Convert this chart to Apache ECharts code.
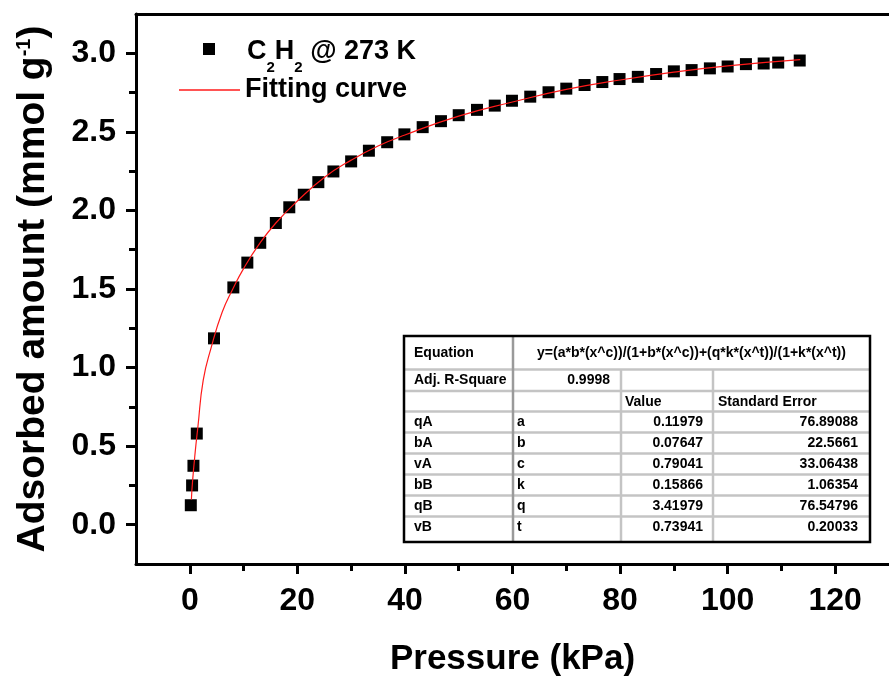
<!DOCTYPE html>
<html>
<head>
<meta charset="utf-8">
<script src="https://cdn.jsdelivr.net/npm/echarts@6.0.0/dist/echarts.min.js"></script>
<style>
html, body { margin: 0; padding: 0; background: #fff; }
#chart { width: 889px; height: 682px; }
</style>
</head>
<body>
<div id="chart"></div>
<script>
var FONT = '"Liberation Sans", Arial, sans-serif';

// measured points (kPa, mmol/g)
var pressure = [0.19, 0.43, 0.68, 1.3, 4.5, 8.1, 10.7, 13.1, 16.0, 18.5, 21.2, 23.9, 26.7, 30.0,
    33.3, 36.7, 39.9, 43.3, 46.7, 50.0, 53.4, 56.7, 59.9, 63.3, 66.7, 70.0, 73.4, 76.7,
    79.9, 83.3, 86.7, 90.0, 93.3, 96.7, 100.0, 103.4, 106.7, 109.4, 113.4];
var uptake = [0.124, 0.25, 0.375, 0.58, 1.186, 1.51, 1.668, 1.794, 1.92, 2.02, 2.10, 2.18, 2.248, 2.312,
    2.38, 2.434, 2.484, 2.53, 2.568, 2.606, 2.64, 2.667, 2.698, 2.724, 2.752, 2.775, 2.798, 2.817,
    2.836, 2.85, 2.868, 2.885, 2.893, 2.904, 2.916, 2.931, 2.935, 2.941, 2.954];

// fitting curve
var fitPressure = [0.3, 0.5, 1, 1.5, 2.5, 4, 6, 8, 10, 13, 16, 20, 25, 30, 35, 40, 50, 60, 70, 80, 90, 100, 113.5];
var fitUptake = [0.16, 0.27, 0.46, 0.62, 0.92, 1.13, 1.35, 1.50, 1.63, 1.79, 1.92, 2.06, 2.21, 2.32, 2.41, 2.48,
    2.60, 2.69, 2.77, 2.83, 2.88, 2.92, 2.96];

var xMajorTicks = [0, 20, 40, 60, 80, 100, 120];
var xMinorTicks = [10, 30, 50, 70, 90, 110];
var yMajorTicks = [0, 0.5, 1.0, 1.5, 2.0, 2.5, 3.0];
var yMinorTicks = [0.25, 0.75, 1.25, 1.75, 2.25, 2.75];

var equationText = 'y=(a*b*(x^c))/(1+b*(x^c))+(q*k*(x^t))/(1+k*(x^t))';
var adjRSquare = '0.9998';
var paramNames = ['qA', 'bA', 'vA', 'bB', 'qB', 'vB'];
var paramSymbols = ['a', 'b', 'c', 'k', 'q', 't'];
var paramValues = ['0.11979', '0.07647', '0.79041', '0.15866', '3.41979', '0.73941'];
var paramErrors = ['76.89088', '22.5661', '33.06438', '1.06354', '76.54796', '0.20033'];

var scatterData = pressure.map(function (p, i) { return [p, uptake[i]]; });
var fitData = fitPressure.map(function (p, i) { return [p, fitUptake[i]]; });

// inset table with the fit results
function buildTable() {
    var x0 = 404, y0 = 336, w = 466, h = 206;
    var c1 = 513, c2 = 621, c3 = 713;
    var rowTop = [336, 369.5, 391, 411.5, 432.5, 453.5, 474.5, 495.5, 516.5];
    var els = [];
    var txt = function (s, x, y, align) {
        return {
            type: 'text', z: 101,
            style: { text: s, x: x, y: y, align: align || 'left', verticalAlign: 'middle',
                font: 'bold 14px ' + FONT, fill: '#000' }
        };
    };
    var line = function (xa, ya, xb, yb, color) {
        return {
            type: 'line', z: 100,
            shape: { x1: xa, y1: ya, x2: xb, y2: yb },
            style: { stroke: color || '#c4c4c4', lineWidth: 2.5 }
        };
    };
    els.push({ type: 'rect', z: 99, shape: { x: x0, y: y0, width: w, height: h },
        style: { fill: '#fff', stroke: 'none' } });
    for (var i = 1; i < rowTop.length; i++) {
        els.push(line(x0, rowTop[i], x0 + w, rowTop[i]));
    }
    els.push(line(c1, y0, c1, y0 + h, '#9a9a9a'));
    els.push(line(c2, rowTop[1], c2, y0 + h));
    els.push(line(c3, rowTop[1], c3, y0 + h));
    els.push({ type: 'rect', z: 102, shape: { x: x0, y: y0, width: w, height: h },
        style: { fill: 'none', stroke: '#000', lineWidth: 2.5 } });

    els.push(txt('Equation', 414, 353));
    els.push(txt(equationText, (c1 + x0 + w) / 2, 353, 'center'));
    els.push(txt('Adj. R-Square', 414, 380));
    els.push(txt(adjRSquare, 610, 380, 'right'));
    els.push(txt('Value', 625, 402));
    els.push(txt('Standard Error', 718, 402));
    for (var r = 0; r < paramNames.length; r++) {
        var cy = 422 + r * 21;
        els.push(txt(paramNames[r], 414, cy));
        els.push(txt(paramSymbols[r], 517, cy));
        els.push(txt(paramValues[r], 703, cy, 'right'));
        els.push(txt(paramErrors[r], 858, cy, 'right'));
    }
    return els;
}

var chart = echarts.init(document.getElementById('chart'));

var tickLabel = { fontSize: 32, fontWeight: 'bold', color: '#000', fontFamily: FONT };
var axisStroke = { color: '#000', width: 3 };

option = {
    animation: false,
    backgroundColor: '#fff',
    grid: { left: 136, right: -3, top: 14, bottom: 114, containLabel: false },
    legend: [{
        data: [{ name: 'C2H2 @ 273 K', icon: 'rect' }],
        left: 203, top: 34, padding: 0,
        itemWidth: 12, itemHeight: 12,
        formatter: function () {
            return '{f|C}{s|2}{c|H}{s|2}{c| @ 273 K}';
        },
        textStyle: {
            rich: {
                f: { fontSize: 27, fontWeight: 'bold', fontFamily: FONT, color: '#000', lineHeight: 30,
                    verticalAlign: 'top', padding: [4, 0, 0, 27] },
                c: { fontSize: 27, fontWeight: 'bold', fontFamily: FONT, color: '#000', lineHeight: 30,
                    verticalAlign: 'top', padding: [4, 0, 0, 0] },
                s: { fontSize: 15, fontWeight: 'bold', fontFamily: FONT, color: '#000', lineHeight: 14,
                    verticalAlign: 'top', padding: [26, 0, 0, 0] }
            }
        }
    }, {
        data: [{ name: 'Fitting curve', icon: 'rect' }],
        left: 179, top: 75, padding: 0,
        itemWidth: 61, itemHeight: 1.5,
        textStyle: { fontSize: 27, fontWeight: 'bold', fontFamily: FONT, color: '#000', lineHeight: 30 }
    }],
    xAxis: [{
        type: 'value', min: -10, max: 130, position: 'bottom',
        axisLine: { onZero: false, lineStyle: axisStroke },
        axisTick: { customValues: xMajorTicks, length: 10, lineStyle: axisStroke },
        axisLabel: Object.assign({ customValues: xMajorTicks, margin: 21 }, tickLabel),
        splitLine: { show: false },
        name: 'Pressure (kPa)', nameLocation: 'middle', nameGap: 78,
        nameTextStyle: { fontSize: 35, fontWeight: 'bold', fontFamily: FONT, color: '#000' }
    }, {
        type: 'value', min: -10, max: 130, position: 'bottom',
        axisLine: { show: false, onZero: false },
        axisTick: { customValues: xMinorTicks, length: 7, lineStyle: axisStroke },
        axisLabel: { show: false },
        splitLine: { show: false }
    }, {
        type: 'value', min: -10, max: 130, position: 'top',
        axisLine: { onZero: false, lineStyle: axisStroke },
        axisTick: { show: false },
        axisLabel: { show: false },
        splitLine: { show: false }
    }],
    yAxis: [{
        type: 'value', min: -0.25, max: 3.25, position: 'left',
        axisLine: { onZero: false, lineStyle: axisStroke },
        axisTick: { customValues: yMajorTicks, length: 10, lineStyle: axisStroke },
        axisLabel: Object.assign({
            customValues: yMajorTicks, margin: 20,
            formatter: function (v) { return v.toFixed(1); }
        }, tickLabel),
        splitLine: { show: false },
        name: '{m|Adsorbed amount (mmol g}{p|-1}{m|)}',
        nameLocation: 'middle', nameGap: 82, nameRotate: 90,
        nameTextStyle: {
            rich: {
                m: { fontSize: 39, fontWeight: 'bold', fontFamily: FONT, color: '#000', lineHeight: 40,
                    verticalAlign: 'top' },
                p: { fontSize: 20, fontWeight: 'bold', fontFamily: FONT, color: '#000', lineHeight: 20,
                    verticalAlign: 'top' }
            }
        }
    }, {
        type: 'value', min: -0.25, max: 3.25, position: 'left',
        axisLine: { show: false, onZero: false },
        axisTick: { customValues: yMinorTicks, length: 7, lineStyle: axisStroke },
        axisLabel: { show: false },
        splitLine: { show: false }
    }],
    series: [{
        name: 'C2H2 @ 273 K',
        type: 'scatter',
        symbol: 'rect',
        symbolSize: 12,
        itemStyle: { color: '#000', opacity: 1 },
        data: scatterData
    }, {
        name: 'Fitting curve',
        type: 'line',
        symbol: 'none',
        smooth: true,
        lineStyle: { color: '#ff1a1a', width: 1.2 },
        itemStyle: { color: '#ff1a1a' },
        data: fitData
    }],
    graphic: buildTable()
};

chart.setOption(option);
</script>
</body>
</html>
